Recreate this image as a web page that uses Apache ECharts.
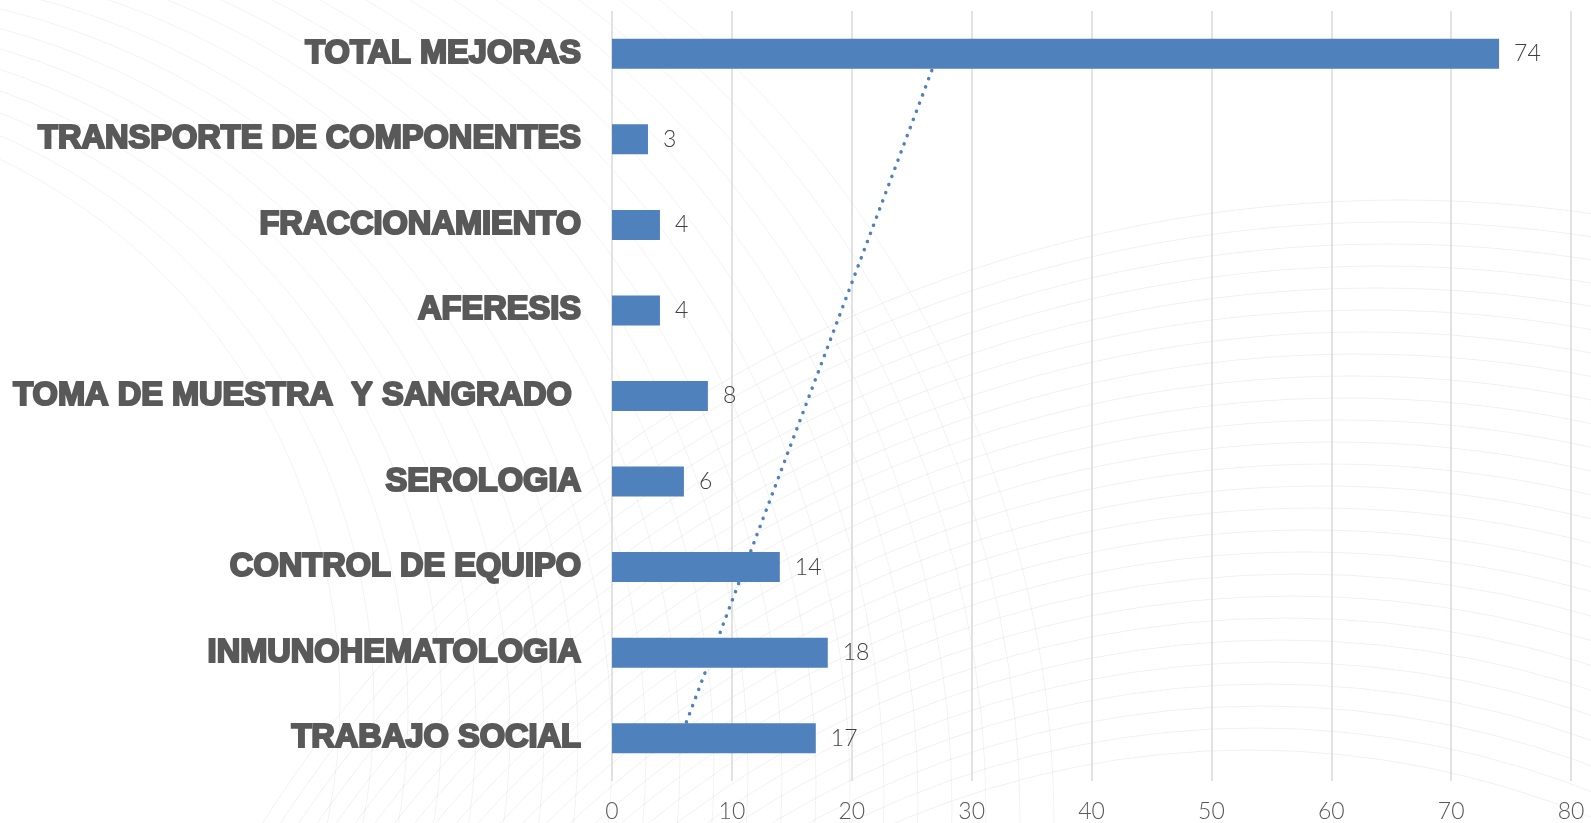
<!DOCTYPE html>
<html>
<head>
<meta charset="utf-8">
<script src="https://cdn.jsdelivr.net/npm/echarts@6/dist/echarts.min.js"></script>
<style>
html,body{margin:0;padding:0;background:#fff;}
#chart{width:1591px;height:823px;}
</style>
</head>
<body>
<div id="chart"></div>
<script>
// Categories listed bottom to top
const categories = [
  'TRABAJO SOCIAL',
  'INMUNOHEMATOLOGIA',
  'CONTROL DE EQUIPO',
  'SEROLOGIA',
  'TOMA DE MUESTRA  Y SANGRADO ',
  'AFERESIS',
  'FRACCIONAMIENTO',
  'TRANSPORTE DE COMPONENTES',
  'TOTAL MEJORAS'
];
const values = [17, 18, 14, 6, 8, 4, 4, 3, 74];
// Trend line endpoints (first and last category)
const trendCats = ['TRABAJO SOCIAL', 'TOTAL MEJORAS'];
const trendVals = [5.7, 27.2];
const xTicks = [0, 10, 20, 30, 40, 50, 60, 70, 80];

const chart = echarts.init(document.getElementById('chart'), null, {renderer: 'canvas'});

// decorative faint background curves
const deco = [];
for (let i = 0; i < 26; i++) {
  deco.push({
    type: 'circle', silent: true, z: -10,
    shape: {cx: 1250 + i * 6, cy: 1650 - i * 4, r: 900 + i * 18},
    style: {fill: 'none', stroke: 'rgba(0,0,0,0.06)', lineWidth: 1}
  });
}
for (let i = 0; i < 22; i++) {
  deco.push({
    type: 'circle', silent: true, z: -10,
    shape: {cx: -260 + i * 12, cy: 700 + i * 6, r: 600 + i * 22},
    style: {fill: 'none', stroke: 'rgba(0,0,0,0.05)', lineWidth: 1}
  });
}

const option = {
  backgroundColor: '#ffffff',
  animation: false,
  graphic: deco,
  grid: {left: 612, right: 20, top: 11, bottom: 41, containLabel: false},
  xAxis: {
    type: 'value', min: xTicks[0], max: xTicks[xTicks.length - 1], interval: 10,
    axisLine: {show: false}, axisTick: {show: false},
    splitLine: {show: true, lineStyle: {color: '#d9d9d9', width: 1.5}},
    axisLabel: {color: '#595959', fontSize: 23, fontFamily: 'Lato', fontWeight: 300, margin: 19}
  },
  yAxis: {
    type: 'category', data: categories,
    axisLine: {show: false}, axisTick: {show: false},
    axisLabel: {
      color: '#595959', fontSize: 32.6, fontFamily: 'Liberation Sans', fontWeight: 'bold',
      textBorderColor: '#595959', textBorderWidth: 2.2, margin: 31
    }
  },
  series: [
    {
      type: 'line', z: 1,
      data: trendCats.map((c, i) => [trendVals[i], c]),
      symbol: 'none',
      lineStyle: {color: '#4f81bd', width: 3.5, type: [0.1, 8.6], cap: 'round'}
    },
    {
      type: 'bar', z: 2, data: values, barWidth: 30,
      itemStyle: {color: '#4f81bd'},
      label: {show: true, position: 'right', distance: 15, color: '#404040', fontSize: 23,
        fontFamily: 'Lato', fontWeight: 300}
    }
  ]
};
chart.setOption(option);
</script>
</body>
</html>
